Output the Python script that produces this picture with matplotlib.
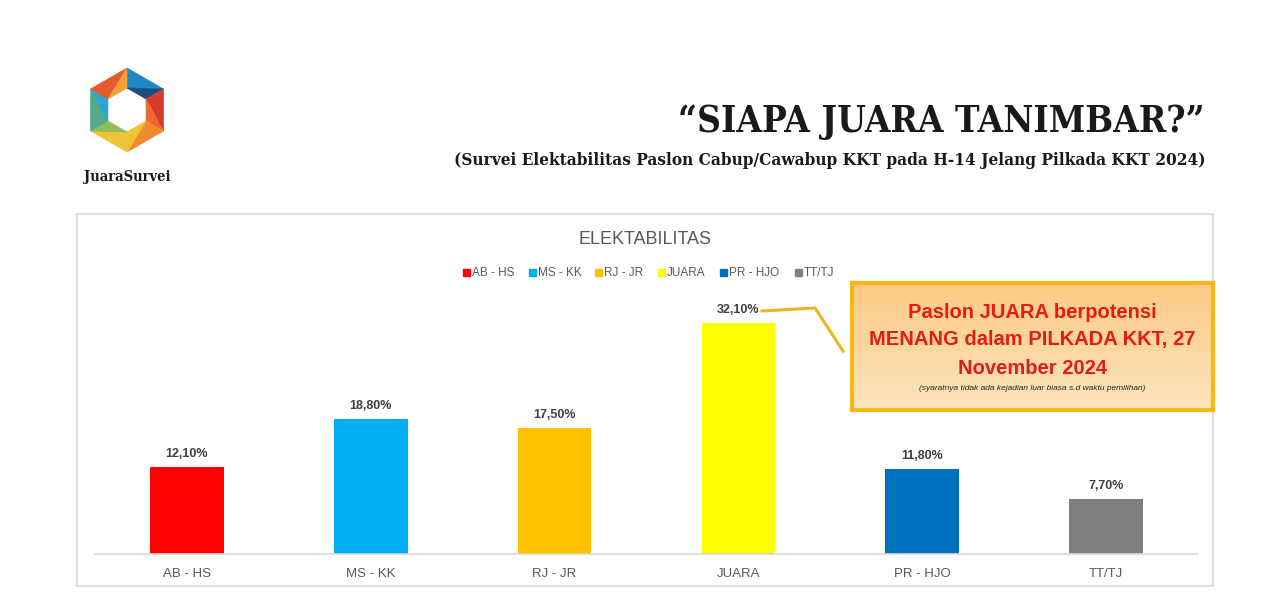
import numpy as np
import matplotlib
matplotlib.use("Agg")
import matplotlib.pyplot as plt
from matplotlib.patches import Polygon, Rectangle
from matplotlib.lines import Line2D
from matplotlib.colors import LinearSegmentedColormap

# data
categories = ["AB - HS", "MS - KK", "RJ - JR", "JUARA", "PR - HJO", "TT/TJ"]
values = [12.1, 18.8, 17.5, 32.1, 11.8, 7.7]
labels = ["12,10%", "18,80%", "17,50%", "32,10%", "11,80%", "7,70%"]
colors = ["#ff0000", "#00b0f0", "#ffc000", "#ffff00", "#0070c0", "#7f7f7f"]

W, H = 1280, 595
NARROW = ["Liberation Sans Narrow", "Liberation Sans", "DejaVu Sans"]
HEAD = ["DejaVu Serif Condensed", "DejaVu Serif"]
GRAY = "#595959"


def fx(x):
    return x / W


def fy(y):
    return 1 - y / H


fig = plt.figure(figsize=(12.8, 5.95), dpi=100)
fig.patch.set_facecolor("white")

# chart frame
fig.patches.append(Rectangle((fx(77), fy(586)), fx(1213) - fx(77), fy(214) - fy(586),
                             transform=fig.transFigure, facecolor="white",
                             edgecolor="#d9d9d9", lw=1.2, zorder=-5))

# plot area
ax = fig.add_axes([fx(95), fy(554), fx(1198) - fx(95), fy(302) - fy(554)], zorder=2)
x = np.arange(len(categories))
ax.bar(x, values, width=0.40, color=colors, zorder=2)
ax.set_xlim(-0.5, len(categories) - 0.5)
ax.set_ylim(0, 35)
for xi, v, lab in zip(x, values, labels):
    ax.annotate(lab, (xi, v), xytext=(0, 5), textcoords="offset points",
                ha="center", va="bottom", fontsize=9, fontweight="bold",
                color="#404040", family=NARROW)
ax.set_xticks(x)
ax.set_xticklabels(categories, fontsize=9.5, color=GRAY, family=NARROW)
ax.tick_params(axis="x", length=0, pad=10)
ax.set_yticks([])
for s in ["top", "right", "left"]:
    ax.spines[s].set_visible(False)
ax.spines["bottom"].set_color("#d9d9d9")
ax.spines["bottom"].set_linewidth(1.2)
ax.patch.set_alpha(0)

# chart title
fig.text(fx(645), fy(239), "ELEKTABILITAS", ha="center", va="center",
         fontsize=13, color=GRAY, family=NARROW)

# legend
leg_x = [463, 529, 595, 658, 720, 795]
for lx, c, name in zip(leg_x, colors, categories):
    fig.patches.append(Rectangle((fx(lx), fy(276)), 7 / W, 7 / H,
                                 transform=fig.transFigure, color=c, zorder=3))
    fig.text(fx(lx + 9), fy(273), name, ha="left", va="center",
             fontsize=8.5, color=GRAY, family=NARROW)

# leader line from JUARA label to callout
fig.lines.append(Line2D([fx(762), fx(815), fx(843)], [fy(311), fy(308), fy(351)],
                        transform=fig.transFigure, color="#eab520", lw=2.2, zorder=3))

# callout box with gradient
bx0, by0, bx1, by1 = 852, 283, 1213, 410
cax = fig.add_axes([fx(bx0), fy(by1), fx(bx1) - fx(bx0), fy(by0) - fy(by1)], zorder=3)
grad = np.linspace(0, 1, 100).reshape(-1, 1)
cmap = LinearSegmentedColormap.from_list("box", ["#fcca85", "#fde4bd"])
cax.imshow(grad, aspect="auto", cmap=cmap, extent=[0, 1, 0, 1], origin="upper")
cax.set_xticks([])
cax.set_yticks([])
for s in cax.spines.values():
    s.set_color("#f5b915")
    s.set_linewidth(3)
box_lines = ["Paslon JUARA berpotensi", "MENANG dalam PILKADA KKT, 27", "November 2024"]
for i, t in enumerate(box_lines):
    cax.text(0.5, 1 - (312 + 28 * i - by0) / (by1 - by0), t, transform=cax.transAxes,
             ha="center", va="center", fontsize=14.5, fontweight="bold",
             color="#e41b17", family=NARROW)
cax.text(0.5, 1 - (389 - by0) / (by1 - by0),
         "(syaratnya tidak ada kejadian luar biasa s.d waktu pemilihan)",
         transform=cax.transAxes, ha="center", va="center", fontsize=6,
         style="italic", color="#262626", family=NARROW)

# headline
fig.text(fx(1205), fy(132), "\u201cSIAPA JUARA TANIMBAR?\u201d", ha="right",
         va="baseline", fontsize=26.5, fontweight="bold", color="#1a1a1a",
         family=HEAD, fontstretch="condensed")
fig.text(fx(1205), fy(165),
         "(Survei Elektabilitas Paslon Cabup/Cawabup KKT pada H-14 Jelang Pilkada KKT 2024)",
         ha="right", va="baseline", fontsize=12.3, fontweight="bold", color="#1a1a1a",
         family=HEAD, fontstretch="condensed")

# logo: hexagonal ring of coloured triangles
cx, cy = 127, 110
R_out, R_in = 42, 22
ang = np.deg2rad(90 - 60 * np.arange(7))
outer = [(cx + R_out * np.cos(a), cy - R_out * np.sin(a)) for a in ang]
inner = [(cx + R_in * np.cos(a), cy - R_in * np.sin(a)) for a in ang]
seg_cols = [("#1e88c8", "#1b4f7a"), ("#d63a2c", "#ea6a2e"), ("#f08a2c", "#f2c230"),
            ("#eec53a", "#8fbf5a"), ("#52a98c", "#2ea3d5"), ("#e85a2a", "#f2a03a")]
for k in range(6):
    o0, o1 = outer[k], outer[k + 1]
    i0, i1 = inner[k], inner[k + 1]
    for tri, col in zip([(o0, o1, i0), (o1, i1, i0)], seg_cols[k]):
        pts = [(fx(p[0]), fy(p[1])) for p in tri]
        fig.patches.append(Polygon(pts, closed=True, transform=fig.transFigure,
                                   facecolor=col, edgecolor=col, lw=0.5))
fig.text(fx(127), fy(177), "JuaraSurvei", ha="center", va="center", fontsize=10.5,
         fontweight="bold", color="#1a1a1a", family=HEAD, fontstretch="condensed")

fig.savefig("out.png", dpi=100)
